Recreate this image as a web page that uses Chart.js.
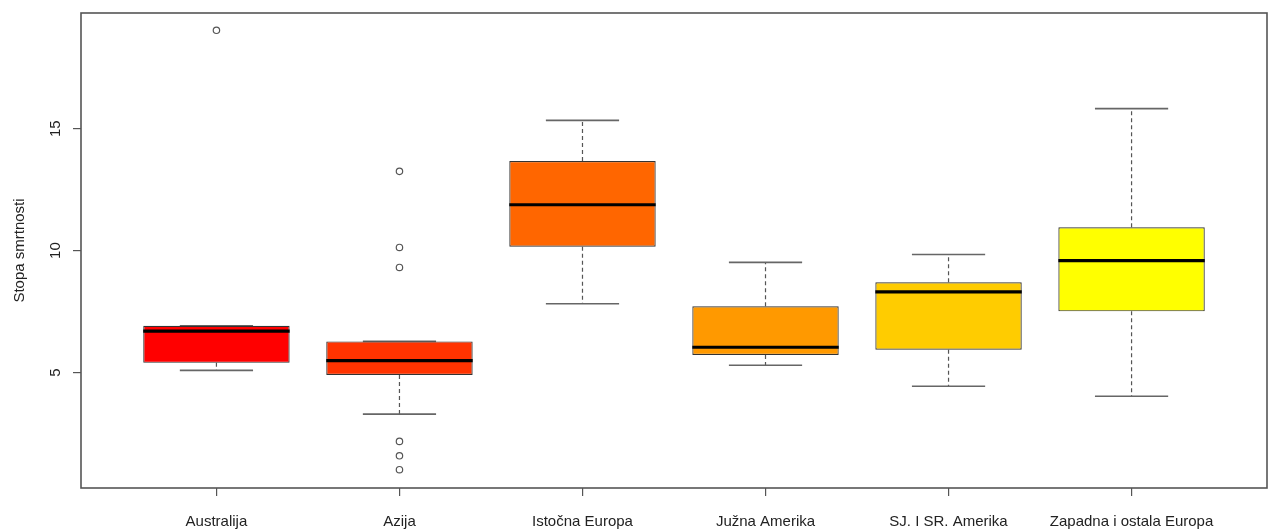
<!DOCTYPE html>
<html>
<head>
<meta charset="utf-8">
<script src="https://cdn.jsdelivr.net/npm/chart.js@4/dist/chart.umd.min.js"></script>
<style>
  html, body { margin: 0; padding: 0; background: #ffffff; }
  #wrap { width: 1268px; height: 530px; }
</style>
</head>
<body>
<div id="wrap"><canvas id="c" width="1268" height="530"></canvas></div>
<script>
// ---- data ----
const categories = ['Australija', 'Azija', 'Istočna Europa', 'Južna Amerika', 'SJ. I SR. Amerika', 'Zapadna i ostala Europa'];
const whiskerLow  = [5.09, 3.30, 7.82, 5.30, 4.44, 4.03];
const q1          = [5.40, 4.90, 10.16, 5.72, 5.94, 7.51];
const medians     = [6.70, 5.49, 11.88, 6.04, 8.31, 9.59];
const q3          = [6.92, 6.28, 13.67, 7.72, 8.70, 10.96];
const whiskerHigh = [6.92, 6.28, 15.34, 9.52, 9.84, 15.82];
const outliers    = [[19.03], [13.25, 10.13, 9.31, 2.18, 1.59, 1.02], [], [], [], []];
const yTicks = [5, 10, 15];
const yTitle = 'Stopa smrtnosti';

// ---- styles ----
const boxColors = ['#FF0000', '#FF3300', '#FF6600', '#FF9900', '#FFCC00', '#FFFF00'];
const FONT = '"Liberation Sans", Arial, sans-serif';
const TEXT = '#222222';
const LINE = '#555555';

const boxData = categories.map((c, i) => ({ x: i + 1, y: [q1[i], q3[i]] }));
const outlierData = [];
outliers.forEach((arr, i) => arr.forEach(v => outlierData.push({ x: i + 1, y: v })));

const boxPlugin = {
  id: 'boxExtras',
  beforeDatasetsDraw(chart) {
    const { ctx, scales: { x, y } } = chart;
    const meta = chart.getDatasetMeta(0);
    ctx.save();
    categories.forEach((c, i) => {
      const bar = meta.data[i];
      const w = bar.width;
      const cx = x.getPixelForValue(i + 1);
      const capHalf = w / 4;
      ctx.strokeStyle = LINE;
      ctx.lineWidth = 1.2;
      ctx.setLineDash([4, 3]);
      ctx.beginPath();
      ctx.moveTo(cx, y.getPixelForValue(q3[i]));
      ctx.lineTo(cx, y.getPixelForValue(whiskerHigh[i]));
      ctx.moveTo(cx, y.getPixelForValue(q1[i]));
      ctx.lineTo(cx, y.getPixelForValue(whiskerLow[i]));
      ctx.stroke();
      ctx.setLineDash([]);
      ctx.lineWidth = 1.6;
      ctx.strokeStyle = '#666666';
      ctx.beginPath();
      [whiskerHigh[i], whiskerLow[i]].forEach(v => {
        const py = y.getPixelForValue(v);
        ctx.moveTo(cx - capHalf, py);
        ctx.lineTo(cx + capHalf, py);
      });
      ctx.stroke();
    });
    ctx.restore();
  },
  afterDatasetsDraw(chart) {
    const { ctx, chartArea, scales: { x, y } } = chart;
    const meta = chart.getDatasetMeta(0);
    ctx.save();
    categories.forEach((c, i) => {
      const bar = meta.data[i];
      const w = bar.width;
      const cx = x.getPixelForValue(i + 1);
      const py = y.getPixelForValue(medians[i]);
      ctx.strokeStyle = '#000000';
      ctx.lineWidth = 3.2;
      ctx.beginPath();
      ctx.moveTo(cx - w / 2, py);
      ctx.lineTo(cx + w / 2, py);
      ctx.stroke();
    });
    ctx.strokeStyle = LINE;
    ctx.lineWidth = 1.6;
    ctx.strokeRect(chartArea.left, chartArea.top, chartArea.right - chartArea.left, chartArea.bottom - chartArea.top);
    ctx.restore();
  }
};

new Chart(document.getElementById('c'), {
  type: 'bar',
  data: {
    datasets: [
      {
        type: 'bar',
        data: boxData,
        backgroundColor: boxColors,
        borderColor: '#333333',
        borderWidth: 1.2,
        borderSkipped: false,
        categoryPercentage: 1.0,
        barPercentage: 0.8,
        order: 2
      },
      {
        type: 'scatter',
        data: outlierData,
        pointStyle: 'circle',
        pointRadius: 3.2,
        pointBorderWidth: 1.2,
        pointBorderColor: '#555555',
        pointBackgroundColor: 'rgba(255,255,255,0)',
        order: 1
      }
    ]
  },
  options: {
    responsive: false,
    animation: false,
    events: [],
    layout: { autoPadding: false, padding: { top: 13, right: 1, left: 0, bottom: 0 } },
    plugins: { legend: { display: false }, tooltip: { enabled: false } },
    scales: {
      x: {
        type: 'linear',
        min: 0.26,
        max: 6.74,
        offset: false,
        border: { display: false },
        grid: { display: true, drawOnChartArea: false, drawTicks: true, tickLength: 8, color: LINE, lineWidth: 1.2, offset: false },
        afterBuildTicks(scale) { scale.ticks = categories.map((c, i) => ({ value: i + 1 })); },
        afterFit(scale) { scale.height = 42; scale.paddingLeft = 0; scale.paddingRight = 0; },
        ticks: {
          autoSkip: false,
          maxRotation: 0,
          minRotation: 0,
          padding: 17,
          color: TEXT,
          font: { family: FONT, size: 15 },
          callback: (v) => categories[v - 1] || ''
        }
      },
      y: {
        type: 'linear',
        min: 0.27,
        max: 19.74,
        border: { display: false },
        grid: { display: true, drawOnChartArea: false, drawTicks: true, tickLength: 8, color: LINE, lineWidth: 1.2 },
        afterBuildTicks(scale) { scale.ticks = yTicks.map(v => ({ value: v })); },
        afterFit(scale) { scale.width = 81; scale.paddingTop = 0; scale.paddingBottom = 0; },
        ticks: {
          minRotation: 90,
          maxRotation: 90,
          crossAlign: 'center',
          padding: 9,
          color: TEXT,
          font: { family: FONT, size: 15 },
          callback: (v) => String(v)
        },
        title: {
          display: true,
          text: yTitle,
          color: TEXT,
          font: { family: FONT, size: 15 },
          padding: { top: 11, bottom: 0 }
        }
      }
    }
  },
  plugins: [boxPlugin]
});
</script>
</body>
</html>
